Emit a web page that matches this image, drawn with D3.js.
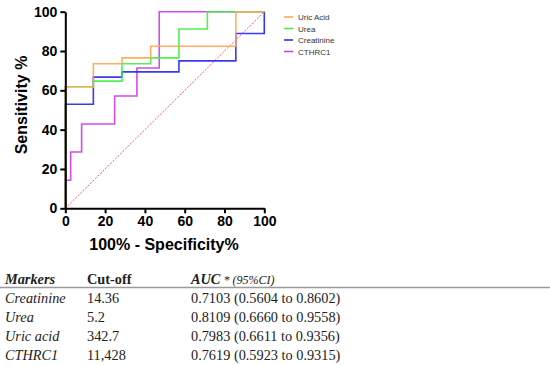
<!DOCTYPE html>
<html>
<head>
<meta charset="utf-8">
<script src="https://cdn.jsdelivr.net/npm/d3@7"></script>
<style>
  body { margin: 0; background: #fff; }
  svg text { font-family: Arial, "Liberation Sans", sans-serif; }
</style>
</head>
<body>
<div id="chart"></div>
<script>
// ROC step curves, [100% - specificity, sensitivity]
var uricAcid = [[0,0],[0,61.8],[14.1,61.8],[14.1,73.5],[28.5,73.5],[28.5,76.5],[42.9,76.5],[42.9,82.4],[85.7,82.4],[85.7,100],[100,100]]
var urea = [[0,0],[0,61.8],[14.1,61.8],[14.1,64.7],[28.5,64.7],[28.5,73.5],[42.9,73.5],[42.9,76.5],[57.1,76.5],[57.1,91.2],[71.4,91.2],[71.4,100],[100,100]]
var creatinine = [[0,0],[0,52.9],[14.1,52.9],[14.1,66.7],[28.5,66.7],[28.5,69.4],[57.1,69.4],[57.1,75],[85.7,75],[85.7,88.9],[100,88.9],[100,100]]
var cthrc1 = [[0,0],[0,14.3],[2.7,14.3],[2.7,28.6],[8.2,28.6],[8.2,42.9],[24.8,42.9],[24.8,57.1],[36,57.1],[36,71.4],[47.2,71.4],[47.2,100],[100,100]]

var seriesNames = ["Uric Acid", "Urea", "Creatinine", "CTHRC1"]
var seriesColors = ["#ffa64d", "#3ef03e", "#2424ee", "#cc3ae8"]
var ticks = [0, 20, 40, 60, 80, 100]

// table
var tableHead = ["Markers", "Cut-off", "AUC"]
var markers = ["Creatinine", "Urea", "Uric acid", "CTHRC1"]
var cutoffs = ["14.36", "5.2", "342.7", "11,428"]
var aucs = ["0.7103 (0.5604 to 0.8602)", "0.8109 (0.6660 to 0.9558)", "0.7983 (0.6611 to 0.9356)", "0.7619 (0.5923 to 0.9315)"]

var svg = d3.select("#chart").append("svg")
            .attr("width", 550)
            .attr("height", 365)

var x = d3.scaleLinear().domain([0, 100]).range([65.3, 264.3])
var y = d3.scaleLinear().domain([0, 100]).range([208.3, 11.7])

// diagonal reference
svg.append("line")
   .attr("x1", x(0)).attr("y1", y(0))
   .attr("x2", x(100)).attr("y2", y(100))
   .attr("stroke", "#ff5a5a")
   .attr("stroke-width", 1)
   .attr("stroke-dasharray", "2,1.5")

var line = d3.line().x(function(d) { return x(d[0]) }).y(function(d) { return y(d[1]) })
var curves = [uricAcid, urea, creatinine, cthrc1]
// draw order so orange ends on top like the reference
var order = [3, 2, 1, 0]
order.forEach(function(i) {
  svg.append("path")
     .datum(curves[i])
     .attr("d", line)
     .attr("fill", "none")
     .attr("stroke", seriesColors[i])
     .attr("stroke-width", 1.6)
     .attr("opacity", 0.9)
})

// axes
var xAxis = svg.append("g")
   .attr("transform", "translate(0," + y(0) + ")")
   .call(d3.axisBottom(x).tickValues(ticks).tickSize(5).tickPadding(3).tickSizeOuter(0))
var yAxis = svg.append("g")
   .attr("transform", "translate(" + x(0) + ",0)")
   .call(d3.axisLeft(y).tickValues(ticks).tickSize(5).tickPadding(3).tickSizeOuter(0))

;[xAxis, yAxis].forEach(function(a) {
  a.select(".domain").attr("stroke", "#000").attr("stroke-width", 2)
  a.selectAll(".tick line").attr("stroke", "#000").attr("stroke-width", 2)
  a.selectAll(".tick text")
   .attr("fill", "#000")
   .style("font-family", "Arial, 'Liberation Sans', sans-serif")
   .style("font-size", "14px")
   .style("font-weight", "bold")
})

svg.append("text")
   .attr("x", 164).attr("y", 250)
   .attr("text-anchor", "middle")
   .style("font-size", "16px").style("font-weight", "bold")
   .text("100% - Specificity%")

svg.append("text")
   .attr("transform", "translate(27,105) rotate(-90)")
   .attr("text-anchor", "middle")
   .style("font-size", "16px").style("font-weight", "bold")
   .text("Sensitivity %")

// legend
var legend = svg.selectAll(".leg").data(seriesNames).enter().append("g")
   .attr("transform", function(d, i) { return "translate(284," + (17 + i * 11.5) + ")" })
legend.append("line")
   .attr("x1", 0).attr("x2", 9).attr("y1", 0).attr("y2", 0)
   .attr("stroke", function(d, i) { return seriesColors[i] })
   .attr("stroke-width", 1.5)
legend.append("text")
   .attr("x", 14).attr("y", 3)
   .style("font-size", "8px").attr("fill", "#333")
   .text(function(d) { return d })

// table below
var serif = "'Palatino Linotype', 'Book Antiqua', Palatino, 'Liberation Serif', 'DejaVu Serif', serif"
var colX = [5, 87, 191]
var t = svg.append("g").attr("fill", "#222").style("font-size", "14.3px")

t.append("text").attr("x", colX[0]).attr("y", 284)
 .style("font-family", serif).style("font-style", "italic").style("font-weight", "bold")
 .text(tableHead[0])
t.append("text").attr("x", colX[1]).attr("y", 284)
 .style("font-family", serif).style("font-weight", "bold")
 .text(tableHead[1])
var aucHead = t.append("text").attr("x", colX[2]).attr("y", 284)
 .style("font-family", serif).style("font-style", "italic")
aucHead.append("tspan").style("font-weight", "bold").text(tableHead[2])
aucHead.append("tspan").style("font-size", "12px").text(" * (95%CI)")

svg.append("line")
   .attr("x1", 0).attr("x2", 550).attr("y1", 287.5).attr("y2", 287.5)
   .attr("stroke", "#9a9a9a").attr("stroke-width", 1.5)

markers.forEach(function(m, i) {
  var yy = 303 + i * 19
  t.append("text").attr("x", colX[0]).attr("y", yy)
   .style("font-family", serif).style("font-style", "italic").text(m)
  t.append("text").attr("x", colX[1]).attr("y", yy)
   .style("font-family", serif).text(cutoffs[i])
  t.append("text").attr("x", colX[2]).attr("y", yy)
   .style("font-family", serif).text(aucs[i])
})
</script>
</body>
</html>
